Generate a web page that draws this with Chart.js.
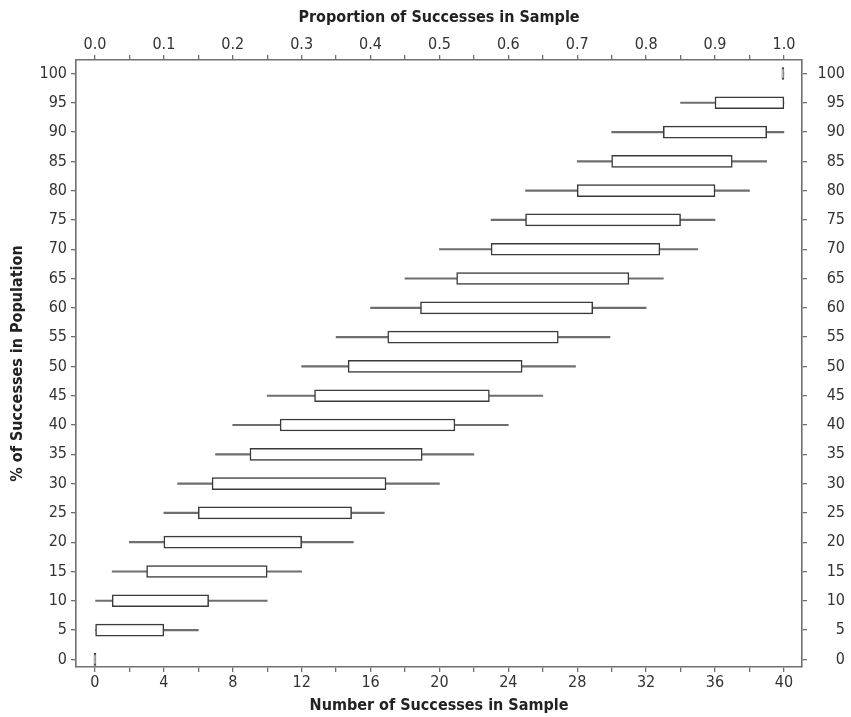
<!DOCTYPE html>
<html>
<head>
<meta charset="utf-8">
<script src="https://cdn.jsdelivr.net/npm/chart.js@4/dist/chart.umd.min.js"></script>
<style>
html,body{margin:0;padding:0;background:#fff}
#wrap{width:851px;height:717px}
</style>
</head>
<body>
<div id="wrap"><canvas id="c" width="851" height="717"></canvas></div>
<script>
// % of successes in population (rows)
const populationPct = [0,5,10,15,20,25,30,35,40,45,50,55,60,65,70,75,80,85,90,95,100];
// number of successes in sample (n = 40): whisker ends and box (quartile) ends
const whiskerMin = [0,0,0,1,2,4,4.8,7,8,10,12,14,16,18,20,23,25,28,30,34,40];
const boxLow     = [0,0,1,3,4,6,6.8,9,10.75,12.75,14.7,17,18.9,21,23,25,28,30,33,36,40];
const boxHigh    = [0,4,6.6,10,12,14.9,16.9,19,20.9,22.9,24.8,26.9,28.9,31,32.8,34,36,37,39,40,40];
const whiskerMax = [0,6,10,12,15,16.8,20,22,24,26,27.9,29.9,32,33,35,36,38,39,40,40,40];

// tick labels
const countTickLabels = [0,4,8,12,16,20,24,28,32,36,40];
const proportionTickLabels = ['0.0','0.1','0.2','0.3','0.4','0.5','0.6','0.7','0.8','0.9','1.0'];
const pctTickLabels = [0,5,10,15,20,25,30,35,40,45,50,55,60,65,70,75,80,85,90,95,100];
const sampleSize = 40;

const xTitle = 'Number of Successes in Sample';
const x2Title = 'Proportion of Successes in Sample';
const yTitle = '% of Successes in Population';

const whiskerData = populationPct.map((p,i)=>({y:p, x:[whiskerMin[i], whiskerMax[i]]}));
const boxData = populationPct.map((p,i)=>({y:p, x:[boxLow[i], boxHigh[i]]}));

const X_MIN = -1.1, X_MAX = 41.05, Y_MIN = -1.3, Y_MAX = 102.3;
const fam = '"Liberation Sans Narrow", "DejaVu Sans Condensed", sans-serif';
const tickFont = {family:fam, size:16};
const titleFont = {family:fam, size:16, weight:'bold'};
const axisColor = '#707070';
const textColor = '#333';

function gridOpts(){
  return {drawOnChartArea:false, drawTicks:true, tickLength:5, color:axisColor, lineWidth:1.3, offset:false};
}
function borderOpts(){
  return {display:true, color:axisColor, width:1.6};
}

new Chart(document.getElementById('c'), {
  type:'bar',
  data:{
    datasets:[
      {
        label:'box',
        data:boxData,
        backgroundColor:'#ffffff',
        borderColor:'#3a3a3a',
        borderWidth:1.5,
        borderSkipped:false,
        barThickness:12,
        minBarLength:2,
        grouped:false,
        order:1,
        xAxisID:'x', yAxisID:'y'
      },
      {
        label:'whisker',
        data:whiskerData,
        backgroundColor:'#6e6e6e',
        borderWidth:0,
        barThickness:1.5,
        grouped:false,
        order:2,
        xAxisID:'x', yAxisID:'y'
      }
    ]
  },
  options:{
    indexAxis:'y',
    responsive:false,
    animation:false,
    layout:{padding:{left:0,right:6,top:0,bottom:0}},
    plugins:{legend:{display:false}, tooltip:{enabled:false}},
    scales:{
      x:{
        type:'linear', position:'bottom', min:X_MIN, max:X_MAX, offset:false,
        grid:gridOpts(), border:borderOpts(),
        ticks:{
          stepSize:2, includeBounds:false, autoSkip:false, maxRotation:0, padding:1,
          font:tickFont, color:textColor,
          callback:(v)=>{ const r=Math.round(v); return countTickLabels.includes(r) && Math.abs(v-r)<1e-6 ? String(r) : ''; }
        },
        title:{display:true, text:xTitle, font:titleFont, color:'#222', padding:{top:0,bottom:2}},
        afterFit:(s)=>{ s.height = 50; }
      },
      x2:{
        type:'linear', axis:'x', position:'top', min:X_MIN/sampleSize, max:X_MAX/sampleSize, offset:false,
        grid:gridOpts(), border:borderOpts(),
        ticks:{
          stepSize:0.05, includeBounds:false, autoSkip:false, maxRotation:0, padding:1,
          font:tickFont, color:textColor,
          callback:(v)=>{ const k=Math.round(v*20); if (Math.abs(v*20-k)>1e-6 || k%2!==0) return ''; return proportionTickLabels[k/2] || ''; }
        },
        title:{display:true, text:x2Title, font:titleFont, color:'#222', padding:{top:8,bottom:0}},
        afterFit:(s)=>{ s.height = 60; }
      },
      y:{
        type:'linear', position:'left', min:Y_MIN, max:Y_MAX, offset:false,
        grid:gridOpts(), border:borderOpts(),
        ticks:{
          stepSize:5, includeBounds:false, autoSkip:false, padding:4,
          font:tickFont, color:textColor,
          callback:(v)=>{ const r=Math.round(v); return pctTickLabels.includes(r) ? String(r) : ''; }
        },
        title:{display:true, text:yTitle, font:titleFont, color:'#222', padding:{top:8,bottom:0}},
        afterFit:(s)=>{ s.width = 76; }
      },
      y2:{
        type:'linear', axis:'y', position:'right', min:Y_MIN, max:Y_MAX, offset:false,
        grid:gridOpts(), border:borderOpts(),
        ticks:{
          stepSize:5, includeBounds:false, autoSkip:false, padding:3, crossAlign:'far',
          font:tickFont, color:textColor,
          callback:(v)=>{ const r=Math.round(v); return pctTickLabels.includes(r) ? String(r) : ''; }
        },
        afterFit:(s)=>{ s.width = 43; }
      }
    }
  }
});
</script>
</body>
</html>
